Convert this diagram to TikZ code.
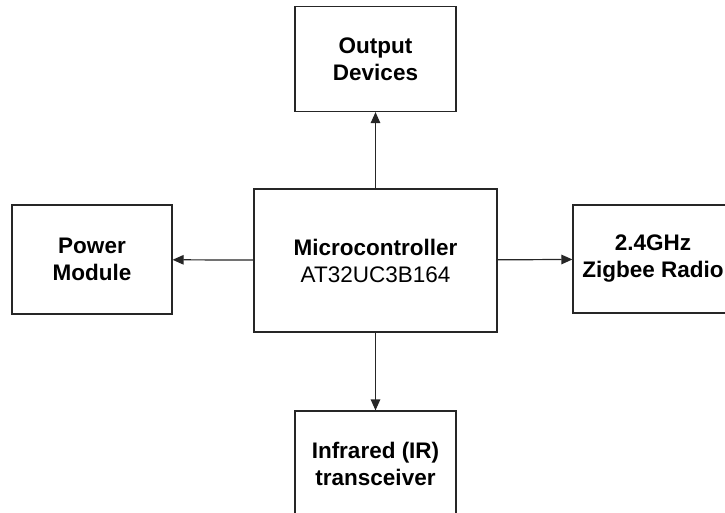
\documentclass[tikz,border=0pt]{standalone}
\usepackage{fontspec}
\setmainfont{Liberation Sans}
\usetikzlibrary{arrows.meta}

\tikzset{
    block/.style={draw=black!85, line width=1.2pt, minimum width=161pt, minimum height=105pt,
        inner sep=0pt, align=center, font=\fontsize{22.5}{27}\selectfont\bfseries},
    link/.style={draw=black!85, line width=1.2pt, -{Triangle[length=11pt,width=9.5pt]}}
}

\begin{document}
\begin{tikzpicture}[x=1pt, y=-1pt]
    \useasboundingbox (0,0) rectangle (725,513);

    % Central unit
    \node[block, minimum width=243pt, minimum height=143pt] (mcu) at (375.5,260.5)
        {Microcontroller\\\mdseries AT32UC3B164};

    % Peripherals
    \node[block] (output) at (375.5,59) {Output\\Devices};
    \node[block, minimum width=160pt, minimum height=109pt] (power) at (92,259.5) {Power\\Module};
    \node[block, minimum width=160pt, minimum height=108pt] (radio) at (653,259) {2.4GHz\\Zigbee Radio};
    \node[block] (ir) at (375.5,463.5) {Infrared (IR)\\transceiver};

    % Connections
    \draw[link] (mcu) -- (output);
    \draw[link] (mcu) -- (power);
    \draw[link] (mcu) -- (radio);
    \draw[link] (mcu) -- (ir);
\end{tikzpicture}
\end{document}
